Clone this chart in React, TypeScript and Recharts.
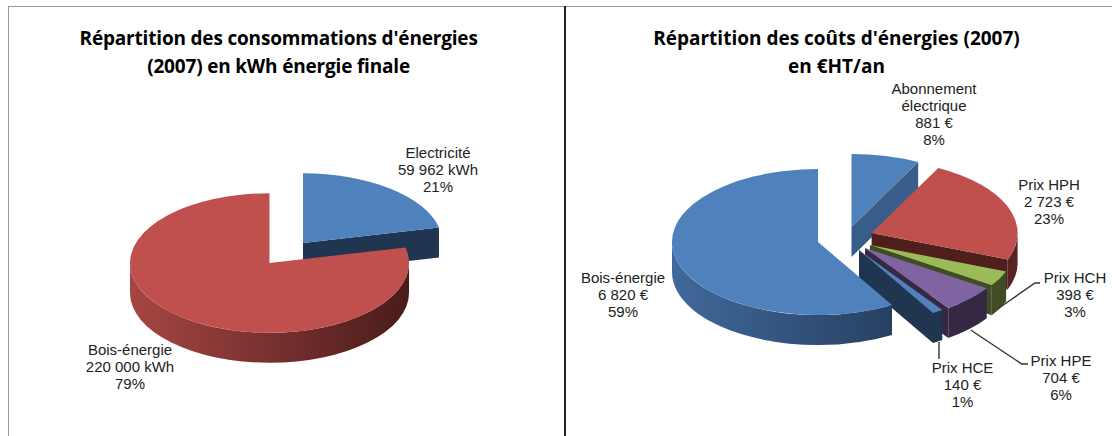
import React from 'react';
import { PieChart, Pie } from 'recharts';

// left chart: consumption in kWh
const energyNames = ['Electricité', 'Bois-énergie'];
const energyValues = [59962, 220000];
const energyValueLabels = ['59 962 kWh', '220 000 kWh'];
const energyPercentLabels = ['21%', '79%'];

// right chart: cost in EUR
const costNames = ['Abonnement\nélectrique', 'Prix HPH', 'Prix HCH', 'Prix HPE', 'Prix HCE', 'Bois-énergie'];
const costValues = [881, 2723, 398, 704, 140, 6820];
const costValueLabels = ['881 €', '2 723 €', '398 €', '704 €', '140 €', '6 820 €'];
const costPercentLabels = ['8%', '23%', '3%', '6%', '1%', '59%'];

const energyData = energyNames.map((name, i) => ({ name, value: energyValues[i] }));
const costData = costNames.map((name, i) => ({ name, value: costValues[i] }));

const ENERGY_STYLE = [
  { top: '#4f81bd', face: '#1f3550', wallFrom: '#1f3550', wallTo: '#1f3550' },
  { top: '#c0504d', face: '#4f1f1d', wallFrom: '#a64643', wallTo: '#4a1c1a' },
];
const COST_STYLE = [
  { top: '#4f81bd', face: '#385d8a', wallFrom: '#385d8a', wallTo: '#385d8a' },
  { top: '#c0504d', face: '#4f1f1d', wallFrom: '#5a2321', wallTo: '#5a2321' },
  { top: '#9bbb59', face: '#3f4c24', wallFrom: '#3f4c24', wallTo: '#3f4c24' },
  { top: '#8064a2', face: '#342843', wallFrom: '#342843', wallTo: '#342843' },
  { top: '#4f81bd', face: '#1f3550', wallFrom: '#1f3550', wallTo: '#1f3550' },
  { top: '#4f81bd', face: '#1f3550', wallFrom: '#41699b', wallTo: '#1e3350' },
];

// how far each exploded slice is pulled out of the pie
const ENERGY_EXPLODE = [[33.5, -20], [0, 0]];
const COST_EXPLODE = [[33.5, -15], [53.6, -9], [52, 3], [47, 6], [41, 8], [0, 0]];

const ENERGY_LABEL_POS = [[438, 153], [130, 350]];
const COST_LABEL_POS = [[368, 89], [483, 185], [509, 278], [495, 360.5], [396.5, 368], [57, 278]];
const COST_LEADERS: Record<number, string> = {
  2: '433,308 469,283 474,283',
  3: '404.7,330 455.7,364 462,364',
  4: '373,342 373,359',
};

const SQUASH = 0.5;
const DEPTH = 30;
const LINE_H = 17;

const makeShape = (styles: any[], explode: number[][], prefix: string) => (props: any) => {
  const { cx, cy, outerRadius: r, startAngle, endAngle, index: i } = props;
  const st = styles[i];
  const [ox, oy] = explode[i];
  const ax = cx + ox;
  const ay = cy + oy;
  // clockwise degrees from 12 o'clock
  const t0 = 90 - startAngle;
  const t1 = 90 - endAngle;
  const pt = (t: number, dy = 0) => {
    const a = (t * Math.PI) / 180;
    return [ax + r * Math.sin(a), ay - r * SQUASH * Math.cos(a) + dy];
  };
  const arc = (from: number, to: number, dy: number, sweep: number) => {
    const [x, y] = pt(to, dy);
    const large = Math.abs(to - from) > 180 ? 1 : 0;
    return `A${r} ${r * SQUASH} 0 ${large} ${sweep} ${x} ${y}`;
  };
  const [sx, sy] = pt(t0);
  const [ex, ey] = pt(t1);
  const wa = Math.max(t0, 90);
  const wb = Math.min(t1, 270);
  const gid = `${prefix}-wall-${i}`;
  return (
    <g>
      <defs>
        <linearGradient id={gid} gradientUnits="userSpaceOnUse" x1={ax - r} x2={ax + r} y1={0} y2={0}>
          <stop offset="0%" stopColor={st.wallFrom} />
          <stop offset="100%" stopColor={st.wallTo} />
        </linearGradient>
      </defs>
      {t1 < 270 && (
        <path d={`M${ax} ${ay}L${ex} ${ey}L${ex} ${ey + DEPTH}L${ax} ${ay + DEPTH}Z`} fill={st.face} />
      )}
      {wb > wa && (
        <path
          d={`M${pt(wa)[0]} ${pt(wa)[1]}${arc(wa, wb, 0, 1)}L${pt(wb, DEPTH)[0]} ${pt(wb, DEPTH)[1]}${arc(wb, wa, DEPTH, 0)}Z`}
          fill={`url(#${gid})`}
        />
      )}
      <path d={`M${ax} ${ay}L${sx} ${sy}${arc(t0, t1, 0, 1)}Z`} fill={st.top} />
    </g>
  );
};

const makeLabel = (
  names: string[],
  values: string[],
  percents: string[],
  pos: number[][],
  leaders: Record<number, string>,
) => (props: any) => {
  const i = props.index;
  const lines = [...names[i].split('\n'), values[i], percents[i]];
  const [x, y] = pos[i];
  return (
    <g>
      {leaders[i] && <polyline points={leaders[i]} fill="none" stroke="#333" strokeWidth={1.4} />}
      <text x={x} y={y + 5} textAnchor="middle" fontFamily="'Liberation Sans', Arial, sans-serif" fontSize={15} fill="#222">
        {lines.map((l, k) => (
          <tspan key={k} x={x} dy={k === 0 ? 0 : LINE_H}>{l}</tspan>
        ))}
      </text>
    </g>
  );
};

const titleStyle: React.CSSProperties = {
  position: 'absolute',
  fontFamily: "'Open Sans', 'Noto Sans', sans-serif",
  fontWeight: 700,
  fontSize: 19,
  lineHeight: '28px',
  color: '#000',
  textAlign: 'center',
  whiteSpace: 'nowrap',
  transform: 'translateX(-50%)',
};

export default function App() {
  return (
    <div style={{ position: 'absolute', left: 0, top: 0, width: 1112, height: 436, background: '#fff', overflow: 'hidden' }}>
      <div style={{ position: 'absolute', left: 8, top: 6, right: 0, bottom: -2, border: '1px solid #999', borderRight: 'none' }} />
      <div style={{ position: 'absolute', left: 564, top: 6, bottom: 0, width: 1.5, background: '#222' }} />

      <div style={{ ...titleStyle, left: 278.6, top: 24, letterSpacing: -0.18 }}>
        Répartition des consommations d'énergies<br />(2007) en kWh énergie finale
      </div>
      <div style={{ ...titleStyle, left: 836.5, top: 24 }}>
        Répartition des coûts d'énergies (2007)<br />en €HT/an
      </div>

      <div style={{ position: 'absolute', left: 0, top: 0 }}>
        <PieChart width={566} height={436} margin={{ top: 0, right: 0, bottom: 0, left: 0 }}>
          <Pie
            data={energyData}
            dataKey="value"
            nameKey="name"
            cx={269.5}
            cy={263}
            outerRadius={139.5}
            startAngle={90}
            endAngle={-270}
            stroke="none"
            isAnimationActive={false}
            shape={makeShape(ENERGY_STYLE, ENERGY_EXPLODE, 'energy')}
            label={makeLabel(energyNames, energyValueLabels, energyPercentLabels, ENERGY_LABEL_POS, {})}
            labelLine={false}
          />
        </PieChart>
      </div>
      <div style={{ position: 'absolute', left: 566, top: 0 }}>
        <PieChart width={546} height={436} margin={{ top: 0, right: 0, bottom: 0, left: 0 }}>
          <Pie
            data={costData}
            dataKey="value"
            nameKey="name"
            cx={252}
            cy={242}
            outerRadius={146}
            startAngle={90}
            endAngle={-270}
            stroke="none"
            isAnimationActive={false}
            shape={makeShape(COST_STYLE, COST_EXPLODE, 'cost')}
            label={makeLabel(costNames, costValueLabels, costPercentLabels, COST_LABEL_POS, COST_LEADERS)}
            labelLine={false}
          />
        </PieChart>
      </div>
    </div>
  );
}
